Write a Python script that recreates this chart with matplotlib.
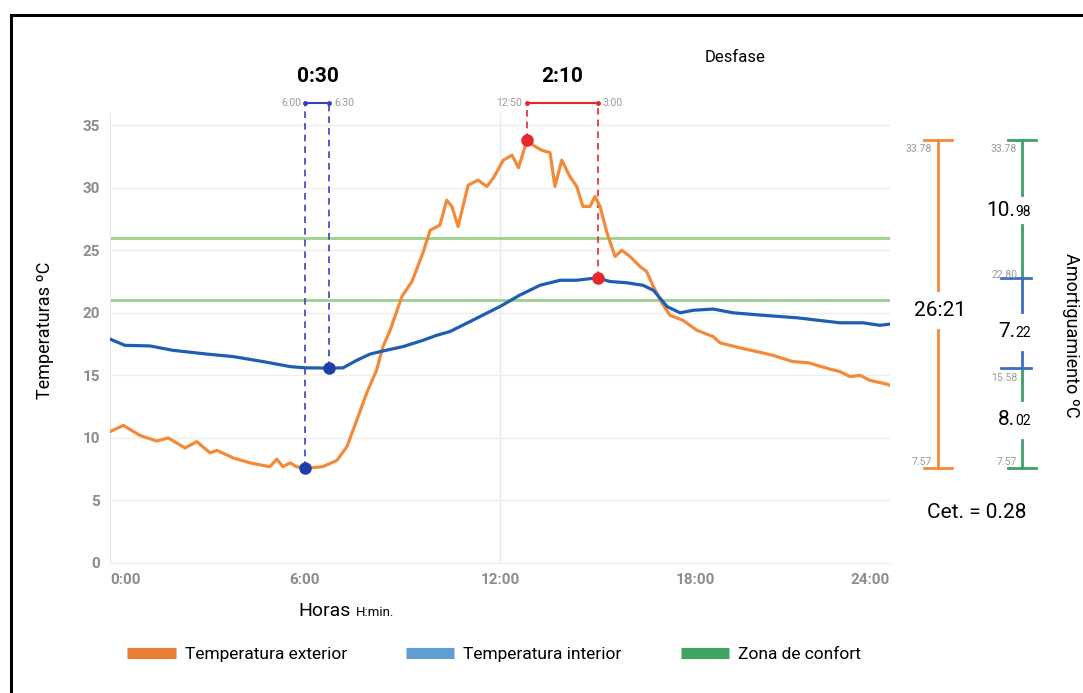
import matplotlib
matplotlib.use("Agg")
import matplotlib.pyplot as plt
from matplotlib.lines import Line2D
from matplotlib.patches import Rectangle

plt.rcParams["font.family"] = ["Roboto", "DejaVu Sans"]

# Temperatura exterior (hours, ºC)
ext_t = [0, 0.41, 0.92, 1.44, 1.79, 2.31, 2.67, 3.08, 3.29, 3.79,
         4.31, 4.71, 4.92, 5.13, 5.32, 5.54, 5.74, 6.0, 6.55, 6.98,
         7.29, 7.59, 7.9, 8.2, 8.4, 8.62, 8.98, 9.29, 9.63, 9.85,
         10.15, 10.36, 10.52, 10.71, 11.02, 11.32, 11.6, 11.8, 12.1, 12.37,
         12.57, 12.83, 13.08, 13.28, 13.54, 13.69, 13.9, 14.15, 14.36, 14.55,
         14.77, 14.92, 15.08, 15.29, 15.54, 15.75, 16.0, 16.31, 16.51, 16.72,
         16.98, 17.23, 17.63, 18.06, 18.56, 18.77, 19.38, 19.9, 20.4, 21.0,
         21.5, 22.15, 22.46, 22.77, 23.08, 23.38, 23.9, 24.0]
ext_v = [10.5, 11.0, 10.2, 9.75, 10.0, 9.2, 9.7, 8.8, 9.0, 8.4,
         8.0, 7.8, 7.7, 8.3, 7.7, 8.0, 7.7, 7.57, 7.7, 8.2,
         9.3, 11.4, 13.6, 15.4, 17.3, 18.6, 21.3, 22.5, 24.8, 26.6,
         27.0, 29.0, 28.5, 26.9, 30.2, 30.6, 30.1, 30.8, 32.2, 32.6,
         31.6, 33.78, 33.3, 33.0, 32.8, 30.1, 32.2, 30.9, 30.1, 28.5,
         28.5, 29.3, 28.5, 26.4, 24.5, 25.0, 24.5, 23.7, 23.3, 22.1,
         20.8, 19.8, 19.4, 18.6, 18.1, 17.6, 17.2, 16.9, 16.6, 16.1,
         16.0, 15.5, 15.3, 14.9, 15.0, 14.6, 14.3, 14.2]

# Temperatura interior
int_t = [0, 0.46, 1.23, 1.94, 2.98, 3.79, 4.71, 5.54, 6.0, 6.75,
         7.17, 7.59, 8.0, 8.4, 9.02, 9.63, 10.05, 10.46, 11.08, 11.69,
         12.0, 12.6, 13.23, 13.85, 14.36, 15.0, 15.38, 15.9, 16.4, 16.72,
         17.14, 17.54, 17.94, 18.56, 19.17, 20.1, 21.14, 22.46, 23.17, 23.69,
         24.0]
int_v = [17.9, 17.4, 17.35, 17.0, 16.7, 16.5, 16.1, 15.7, 15.6, 15.58,
         15.6, 16.2, 16.7, 16.95, 17.3, 17.8, 18.2, 18.5, 19.3, 20.1,
         20.5, 21.4, 22.2, 22.6, 22.6, 22.8, 22.5, 22.4, 22.2, 21.8,
         20.5, 20.0, 20.2, 20.3, 20.0, 19.8, 19.6, 19.2, 19.2, 19.0,
         19.1]

# Zona de confort
confort = [21, 26]

# key points (hours, ºC)
ext_min = (6.0, 7.57)
int_min = (6.75, 15.58)
ext_max = (12.83, 33.78)
int_max = (15.0, 22.80)

xticks = [0, 6, 12, 18, 24]
xlabels = ["0:00", "6:00", "12:00", "18:00", "24:00"]
yticks = [0, 5, 10, 15, 20, 25, 30, 35]

c_ext = "#f28a3a"
c_int = "#1f5db3"
c_conf = "#98d28c"
c_dblue = "#3a3fc2"
c_red = "#e8262b"
c_bar_g = "#3f9e6b"
c_bar_b = "#3b6cc4"
grey = "#8c8c8c"

W, H = 1083, 693
fig = plt.figure(figsize=(W / 100, H / 100), dpi=100)
ax = fig.add_axes([110 / W, 130 / H, 780 / W, 36 * 12.51 / H])

ax.plot(ext_t, ext_v, color=c_ext, lw=2.3, zorder=3)
ax.plot(int_t, int_v, color=c_int, lw=2.3, zorder=3)
for c in confort:
    ax.axhline(c, color=c_conf, lw=2, zorder=2)

ax.set_xlim(0, 24)
ax.set_ylim(0, 36)
ax.set_xticks(xticks)
ax.set_xticklabels(xlabels)
ax.set_yticks(yticks)
for s in ["top", "right"]:
    ax.spines[s].set_visible(False)
ax.spines["left"].set_color("#e6e6e6")
ax.spines["bottom"].set_color("#eeeeee")
ax.grid(axis="y", color="#eeeeee", lw=1)
ax.axvline(12, color="#e8e8e8", lw=1, zorder=1)
ax.tick_params(length=0, colors=grey, labelsize=11, pad=7)
for lab in ax.get_xticklabels() + ax.get_yticklabels():
    lab.set_fontweight("bold")
xl = ax.get_xticklabels()
xl[0].set_ha("left")
xl[-1].set_ha("right")

# desfase markers
top = 36.77
ax.plot([ext_min[0], ext_min[0]], [ext_min[1], top], ls=(0, (4, 3)), color=c_dblue, lw=1.2, clip_on=False)
ax.plot([int_min[0], int_min[0]], [int_min[1], top], ls=(0, (4, 3)), color=c_dblue, lw=1.2, clip_on=False)
ax.plot([ext_min[0], int_min[0]], [top, top], color=c_dblue, lw=1.5, marker="o", ms=2.5, clip_on=False)
ax.plot(*zip(ext_min, int_min), ls="none", marker="o", ms=8, color="#1f3fa8", zorder=5)

ax.plot([ext_max[0], ext_max[0]], [ext_max[1], top], ls=(0, (4, 3)), color=c_red, lw=1.2, clip_on=False)
ax.plot([int_max[0], int_max[0]], [int_max[1], top], ls=(0, (4, 3)), color=c_red, lw=1.2, clip_on=False)
ax.plot([ext_max[0], int_max[0]], [top, top], color=c_red, lw=1.5, marker="o", ms=2.5, clip_on=False)
ax.plot(*zip(ext_max, int_max), ls="none", marker="o", ms=8, color=c_red, zorder=5)

small = dict(fontsize=7.5, color="#9a9a9a", clip_on=False, va="center")
ax.text(5.88, top, "6:00", ha="right", **small)
ax.text(6.9, top, "6:30", ha="left", **small)
ax.text(12.68, top, "12:50", ha="right", **small)
ax.text(15.15, top, "3:00", ha="left", **small)
ax.text(6.4, 38.85, "0:30", ha="center", va="center", fontsize=15, fontweight="bold")
ax.text(13.9, 38.85, "2:10", ha="center", va="center", fontsize=15, fontweight="bold")
ax.text(19.23, 40.4, "Desfase", ha="center", va="center", fontsize=12)

# amplitud exterior bar
xo = 25.48
ax.plot([xo, xo], [ext_max[1], 21.8], color=c_ext, lw=2, clip_on=False)
ax.plot([xo, xo], [18.6, ext_min[1]], color=c_ext, lw=2, clip_on=False)
for v in [ext_max[1], ext_min[1]]:
    ax.plot([xo - 0.42, xo + 0.42], [v, v], color=c_ext, lw=2, clip_on=False)
ax.text(xo + 0.05, 20.2, "26:21", ha="center", va="center", fontsize=15, clip_on=False)
ax.text(xo - 0.2, 33.1, "33.78", ha="right", **small)
ax.text(xo - 0.2, 8.1, "7.57", ha="right", **small)

# amortiguamiento bar
xg = 28.06
ax.plot([xg, xg], [ext_max[1], 29.4], color=c_bar_g, lw=2, clip_on=False)
ax.plot([xg, xg], [27.0, int_max[1]], color=c_bar_g, lw=2, clip_on=False)
ax.plot([xg, xg], [int_max[1], 20.1], color=c_bar_b, lw=2, clip_on=False)
ax.plot([xg, xg], [16.9, int_min[1]], color=c_bar_b, lw=2, clip_on=False)
ax.plot([xg, xg], [int_min[1], 13.0], color=c_bar_g, lw=2, clip_on=False)
ax.plot([xg, xg], [9.8, ext_min[1]], color=c_bar_g, lw=2, clip_on=False)
for v in [ext_max[1], ext_min[1]]:
    ax.plot([xg - 0.42, xg + 0.42], [v, v], color=c_bar_g, lw=2, clip_on=False)
for v in [int_max[1], int_min[1]]:
    ax.plot([xg - 0.65, xg + 0.28], [v, v], color=c_bar_b, lw=2, clip_on=False)
ax.text(xg - 0.15, 33.1, "33.78", ha="right", **small)
ax.text(xg - 0.15, 23.0, "22.80", ha="right", **small)
ax.text(xg - 0.15, 14.8, "15.58", ha="right", **small)
ax.text(xg - 0.15, 8.1, "7.57", ha="right", **small)
for big, sm, y in [("10.", "98", 27.7), ("7.", "22", 18.1), ("8.", "02", 11.0)]:
    ax.text(xg - 0.2, y, big, ha="right", va="baseline", fontsize=15, clip_on=False)
    ax.text(xg - 0.2, y, sm, ha="left", va="baseline", fontsize=10, clip_on=False)

fig.text(977 / W, 1 - 512 / H, "Cet. = 0.28", ha="center", va="center", fontsize=15)
fig.text(45 / W, 1 - 330 / H, "Temperaturas ºC", rotation=90, ha="center", va="center", fontsize=13)
fig.text(1071 / W, 1 - 335 / H, "Amortiguamiento ºC", rotation=270, ha="center", va="center", fontsize=13)
fig.text(351 / W, 1 - 616 / H, "Horas", ha="right", va="baseline", fontsize=14)
fig.text(356 / W, 1 - 616 / H, "H:min.", ha="left", va="baseline", fontsize=9.5)

handles = [Line2D([], [], color="#e87d35", lw=8, solid_capstyle="butt"),
           Line2D([], [], color="#609fd3", lw=8, solid_capstyle="butt"),
           Line2D([], [], color="#3ea560", lw=8, solid_capstyle="butt")]
fig.legend(handles, ["Temperatura exterior", "Temperatura interior", "Zona de confort"],
           loc="center", bbox_to_anchor=(494 / W, 1 - 654 / H), ncol=3, frameon=False,
           fontsize=12.5, handlelength=2.8, handletextpad=0.5, columnspacing=3.4)

fig.add_artist(Rectangle((11 / W, -0.02), 1.1, 1 - 15 / H + 0.02, fill=False, lw=2.2,
                         color="black", transform=fig.transFigure))

fig.savefig("out.png", dpi=100)
